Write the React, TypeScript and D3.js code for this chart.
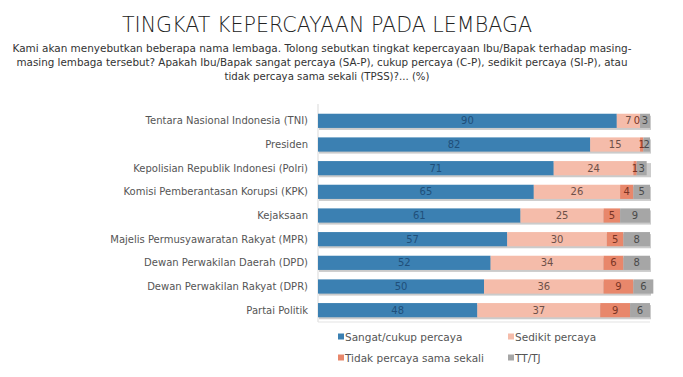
import React from "react";
import * as d3 from "d3";

const categories = [
  "Tentara Nasional Indonesia (TNI)",
  "Presiden",
  "Kepolisian Republik Indonesi (Polri)",
  "Komisi Pemberantasan Korupsi (KPK)",
  "Kejaksaan",
  "Majelis Permusyawaratan Rakyat (MPR)",
  "Dewan Perwakilan Daerah (DPD)",
  "Dewan Perwakilan Rakyat (DPR)",
  "Partai Politik",
];
const sangatCukup = [90, 82, 71, 65, 61, 57, 52, 50, 48];
const sedikit = [7, 15, 24, 26, 25, 30, 34, 36, 37];
const tidakSama = [0, 1, 1, 4, 5, 5, 6, 9, 9];
const ttTj = [3, 2, 3, 5, 9, 8, 8, 6, 6];
const seriesNames = ["Sangat/cukup percaya", "Sedikit percaya", "Tidak percaya sama sekali", "TT/TJ"];
const seriesColors = ["#3b80b2", "#f5bcaa", "#e8876b", "#a6a6a6"];
const labelColors = ["#1f4f7a", "#6e5048", "#7a3424", "#4a4a4a"];

const title = "TINGKAT KEPERCAYAAN PADA LEMBAGA";
const subtitle = [
  "Kami akan menyebutkan beberapa nama lembaga. Tolong sebutkan tingkat kepercayaan Ibu/Bapak terhadap masing-",
  "masing lembaga tersebut? Apakah Ibu/Bapak sangat percaya (SA-P), cukup percaya (C-P), sedikit percaya (SI-P), atau",
  "tidak percaya sama sekali (TPSS)?... (%)",
];

const FONT = "'DejaVu Sans', sans-serif";

export default function App() {
  const W = 683, H = 377;
  const x = d3.scaleLinear().domain([0, 100]).range([318, 650]);
  const y = d3.scaleBand<string>().domain(categories).range([109, 322]).paddingInner(0.4).paddingOuter(0.2);
  const rows = categories.map((c, i) => [sangatCukup[i], sedikit[i], tidakSama[i], ttTj[i]]);
  const stacked = d3.stack<number[]>().keys(["0", "1", "2", "3"]).value((d, k) => d[+k])(rows);
  const bh = y.bandwidth();

  return (
    <svg width={W} height={H} style={{ position: "absolute", left: 0, top: 0, background: "#fff" }}>
      <text x={327} y={32} textAnchor="middle" fontFamily={FONT} fontSize={22} fill="#222"
        textLength={410} lengthAdjust="spacingAndGlyphs" style={{ fontWeight: 300 }}>{title}</text>
      {subtitle.map((s, i) => (
        <text key={i} x={i === 2 ? 327 : 322} y={52 + i * 14} textAnchor="middle" fontFamily={FONT} fontSize={10.5}
          fill="#333" textLength={i === 0 ? 619 : i === 1 ? 611 : 205} lengthAdjust="spacingAndGlyphs">{s}</text>
      ))}
      {/* axes */}
      <line x1={318} x2={318} y1={104} y2={322} stroke="#d9d9d9" />
      <line x1={318} x2={650} y1={322} y2={322} stroke="#e3e3e3" />
      {categories.map((c) => (
        <text key={c} x={308} y={(y(c) as number) + bh / 2} dy="0.35em" textAnchor="end" fontFamily={FONT}
          fontSize={10} fill="#555">{c}</text>
      ))}
      {/* shadows */}
      {categories.map((c) => (
        <rect key={"s" + c} x={x(0) + 1} y={(y(c) as number) + 2} width={x(100) - x(0)} height={bh}
          fill="#8c8c8c" opacity={0.45} />
      ))}
      {stacked.map((s, si) => (
        <g key={si}>
          {s.map((d, i) => (
            <rect key={i} x={x(d[0])} y={y(categories[i])} width={x(d[1]) - x(d[0])} height={bh}
              fill={seriesColors[si]} />
          ))}
        </g>
      ))}
      {stacked.map((s, si) => (
        <g key={"l" + si}>
          {s.map((d, i) => {
            const v = rows[i][si];
            let cx = (x(d[0]) + x(d[1])) / 2;
            if (si === 2 && v === 0) cx -= 3;
            return (
              <text key={i} x={cx} y={(y(categories[i]) as number) + bh / 2} dy="0.36em" textAnchor="middle"
                fontFamily={FONT} fontSize={10} fill={labelColors[si]}>{v}</text>
            );
          })}
        </g>
      ))}
      {/* legend */}
      {seriesNames.map((n, i) => {
        const lx = i % 2 === 0 ? 338 : 508;
        const ly = i < 2 ? 337 : 358;
        return (
          <g key={n}>
            <rect x={lx} y={ly - 3.5} width={6} height={6} fill={seriesColors[i]} />
            <text x={lx + 7} y={ly} dy="0.35em" fontFamily={FONT} fontSize={10.5} fill="#555">{n}</text>
          </g>
        );
      })}
    </svg>
  );
}
